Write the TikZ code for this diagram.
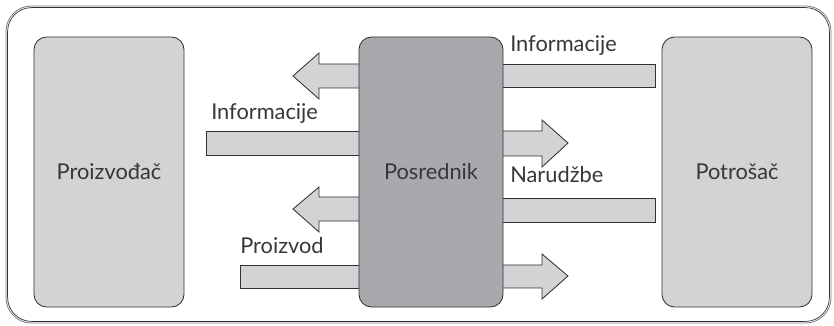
\documentclass[tikz,border=0pt]{standalone}
\usepackage{fontspec}
\setmainfont{Lato}
\usepackage{tikz}
\usetikzlibrary{positioning, calc}
\definecolor{boxlight}{RGB}{210,211,213}
\definecolor{boxdark}{RGB}{168,169,172}
\definecolor{edgegray}{RGB}{50,50,52}
\definecolor{txtgray}{RGB}{55,55,58}
\tikzset{
  party/.style={rectangle, draw=edgegray, fill=boxlight, rounded corners=9pt,
    minimum width=3.75cm, minimum height=6.75cm, line width=0.6pt,
    font=\fontsize{15.5}{18}\selectfont, text=txtgray},
  middle/.style={party, fill=boxdark, minimum width=3.6cm},
  flow/.style={draw=edgegray, fill=boxlight, line width=0.6pt},
  flowlabel/.style={anchor=base west, inner sep=0pt,
    font=\fontsize{15.5}{18}\selectfont, text=txtgray}
}

\begin{document}
\begin{tikzpicture}[x=0.025cm, y=-0.025cm]
  \useasboundingbox (0,0) rectangle (834,326);
  % outer frame
  \draw[gray, line width=0.6pt, rounded corners=18pt] (6,6) rectangle (831,323);
  \draw[edgegray, line width=0.5pt, rounded corners=17pt] (7.6,7.6) rectangle (829.4,321.4);
  % flows on the left side of the middleman (drawn first, box covers the joins)
  \draw[flow] (361,64) -- (319,64) -- (319,53) -- (293,76) -- (319,99)
    -- (319,88) -- (361,88);
  \draw[flow] (361,131) rectangle (206,155);
  \draw[flow] (361,197) -- (319,197) -- (319,187) -- (293,209) -- (319,232)
    -- (319,221) -- (361,221);
  \draw[flow] (361,265) rectangle (240,288);
  % flows on the right side
  \draw[flow] (501,64) rectangle (655,87);
  \draw[flow] (501,131) -- (542,131) -- (542,120) -- (568,143) -- (542,167)
    -- (542,156) -- (501,156);
  \draw[flow] (501,198) rectangle (655,222);
  \draw[flow] (501,265) -- (542,265) -- (542,254) -- (568,276) -- (542,299)
    -- (542,288) -- (501,288);
  % the three parties
  \node[party] (prod) at (109,172) {Proizvođač};
  \node[middle] (pos) at (431,172) {Posrednik};
  \node[party] (potr) at (737,172) {Potrošač};
  % labels
  \node[flowlabel] (infl) at (211,120) {Informacije};
  \node[flowlabel] (infr) at (510,52) {Informacije};
  \node[flowlabel] (nar) at (510,183) {Narudžbe};
  \node[flowlabel] (proz) at (240,254) {Proizvod};
\end{tikzpicture}
\end{document}
